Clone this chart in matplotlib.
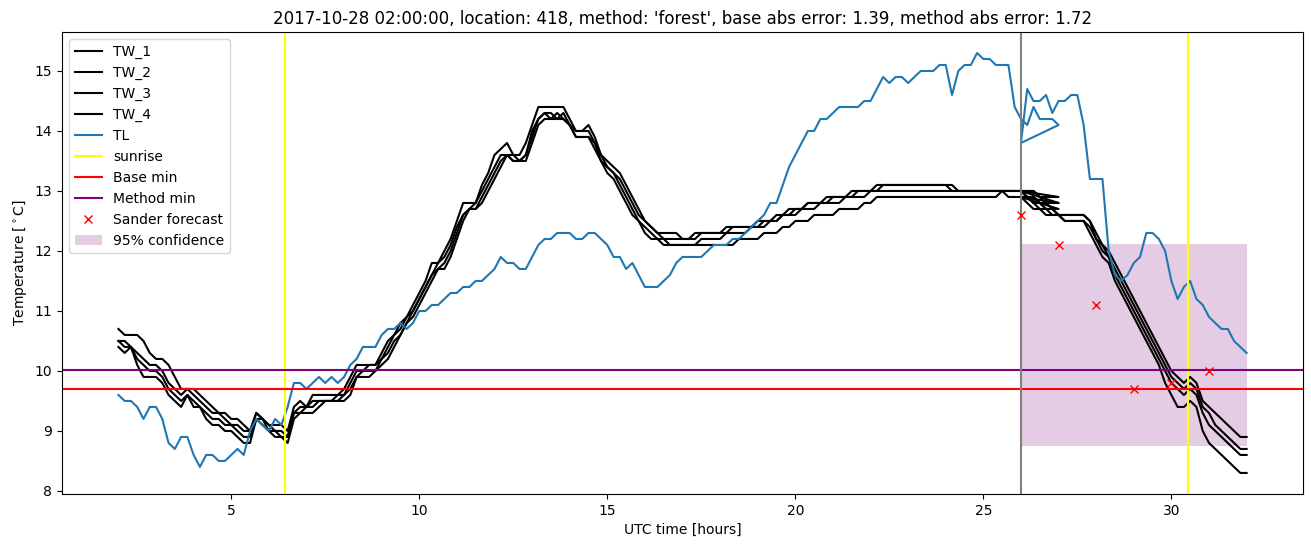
import numpy as np
import matplotlib
matplotlib.use('Agg')
import matplotlib.pyplot as plt

# 10-minute observations: history 02:00-27:00 and the following period 26:00-32:00
t_hist = 2 + np.arange(151) / 6
t_next = 26 + np.arange(37) / 6

tl_hist = [9.6, 9.5, 9.5, 9.4, 9.2, 9.4, 9.4, 9.2, 8.8, 8.7,
           8.9, 8.9, 8.6, 8.4, 8.6, 8.6, 8.5, 8.5, 8.6, 8.7,
           8.6, 9.0, 9.2, 9.1, 9.0, 9.2, 9.1, 9.4, 9.8, 9.8,
           9.7, 9.8, 9.9, 9.8, 9.9, 9.8, 9.9, 10.1, 10.2, 10.4,
           10.4, 10.4, 10.6, 10.7, 10.7, 10.8, 10.7, 10.8, 11.0, 11.0,
           11.1, 11.1, 11.2, 11.3, 11.3, 11.4, 11.4, 11.5, 11.5, 11.6,
           11.7, 11.9, 11.8, 11.8, 11.7, 11.7, 11.9, 12.1, 12.2, 12.2,
           12.3, 12.3, 12.3, 12.2, 12.2, 12.3, 12.3, 12.2, 12.1, 11.9,
           11.9, 11.7, 11.8, 11.6, 11.4, 11.4, 11.4, 11.5, 11.6, 11.8,
           11.9, 11.9, 11.9, 11.9, 12.0, 12.1, 12.1, 12.1, 12.2, 12.2,
           12.3, 12.4, 12.5, 12.6, 12.8, 12.8, 13.1, 13.4, 13.6, 13.8,
           14.0, 14.0, 14.2, 14.2, 14.3, 14.4, 14.4, 14.4, 14.4, 14.5,
           14.5, 14.7, 14.9, 14.8, 14.9, 14.9, 14.8, 14.9, 15.0, 15.0,
           15.0, 15.1, 15.1, 14.6, 15.0, 15.1, 15.1, 15.3, 15.2, 15.2,
           15.1, 15.1, 15.1, 14.4, 14.2, 14.1, 14.4, 14.2, 14.2, 14.2, 14.1]
tl_next = [13.8, 14.7, 14.5, 14.5, 14.6, 14.3, 14.5, 14.5, 14.6, 14.6,
           14.1, 13.2, 13.2, 13.2, 12.0, 11.6, 11.5, 11.6, 11.8, 11.9,
           12.3, 12.3, 12.2, 12.0, 11.5, 11.2, 11.4, 11.5, 11.2, 11.1,
           10.9, 10.8, 10.7, 10.7, 10.5, 10.4, 10.3]

tw1_hist = [10.7, 10.6, 10.6, 10.6, 10.5, 10.3, 10.2, 10.2, 10.1, 9.9,
            9.7, 9.7, 9.7, 9.6, 9.5, 9.4, 9.3, 9.3, 9.2, 9.2,
            9.1, 9.0, 9.3, 9.2, 9.1, 9.1, 9.1, 9.0, 9.4, 9.5,
            9.4, 9.6, 9.6, 9.6, 9.6, 9.6, 9.7, 9.9, 10.1, 10.1,
            10.1, 10.1, 10.3, 10.5, 10.6, 10.8, 10.9, 11.1, 11.3, 11.5,
            11.8, 11.8, 12.0, 12.2, 12.5, 12.8, 12.8, 12.8, 13.1, 13.3,
            13.6, 13.7, 13.8, 13.6, 13.6, 13.8, 14.1, 14.4, 14.4, 14.4,
            14.4, 14.4, 14.2, 14.0, 14.0, 14.1, 13.9, 13.6, 13.5, 13.4,
            13.3, 13.1, 12.9, 12.7, 12.5, 12.4, 12.3, 12.3, 12.3, 12.3,
            12.2, 12.2, 12.3, 12.3, 12.3, 12.3, 12.3, 12.4, 12.4, 12.4,
            12.4, 12.4, 12.4, 12.5, 12.5, 12.5, 12.6, 12.6, 12.7, 12.7,
            12.8, 12.8, 12.8, 12.9, 12.9, 12.9, 12.9, 13.0, 13.0, 13.0,
            13.0, 13.1, 13.1, 13.1, 13.1, 13.1, 13.1, 13.1, 13.1, 13.1,
            13.1, 13.1, 13.1, 13.0, 13.0, 13.0, 13.0, 13.0, 13.0, 13.0,
            13.0, 13.0, 13.0, 13.0, 13.0, 13.0, 13.0, 12.9, 12.9, 12.9, 12.9]
tw2_hist = [10.5, 10.5, 10.4, 10.3, 10.2, 10.1, 10.1, 10.0, 9.8, 9.7,
            9.6, 9.7, 9.6, 9.5, 9.4, 9.3, 9.3, 9.2, 9.1, 9.1,
            9.0, 9.0, 9.3, 9.2, 9.1, 9.0, 9.0, 8.9, 9.3, 9.4,
            9.4, 9.5, 9.5, 9.5, 9.5, 9.6, 9.6, 9.8, 10.0, 10.0,
            10.1, 10.1, 10.2, 10.4, 10.6, 10.7, 10.9, 11.0, 11.2, 11.4,
            11.6, 11.8, 11.9, 12.1, 12.4, 12.6, 12.7, 12.8, 13.0, 13.2,
            13.4, 13.6, 13.6, 13.6, 13.5, 13.6, 14.0, 14.2, 14.3, 14.3,
            14.2, 14.3, 14.1, 14.0, 14.0, 14.0, 13.8, 13.6, 13.4, 13.3,
            13.2, 13.0, 12.8, 12.6, 12.5, 12.4, 12.3, 12.2, 12.2, 12.2,
            12.2, 12.2, 12.2, 12.3, 12.3, 12.3, 12.3, 12.3, 12.4, 12.4,
            12.4, 12.4, 12.5, 12.5, 12.5, 12.6, 12.6, 12.7, 12.7, 12.7,
            12.8, 12.8, 12.8, 12.8, 12.9, 12.9, 12.9, 12.9, 13.0, 13.0,
            13.0, 13.0, 13.1, 13.1, 13.1, 13.1, 13.1, 13.1, 13.1, 13.1,
            13.1, 13.1, 13.1, 13.1, 13.0, 13.0, 13.0, 13.0, 13.0, 13.0,
            13.0, 13.0, 13.0, 13.0, 13.0, 12.9, 12.9, 12.8, 12.8, 12.8, 12.8]
tw3_hist = [10.5, 10.4, 10.4, 10.2, 10.1, 10.0, 10.0, 9.9, 9.7, 9.6,
            9.5, 9.6, 9.5, 9.4, 9.3, 9.2, 9.2, 9.1, 9.1, 9.0,
            8.9, 8.9, 9.2, 9.2, 9.0, 9.0, 8.9, 8.9, 9.3, 9.3,
            9.4, 9.4, 9.5, 9.5, 9.5, 9.5, 9.6, 9.7, 9.9, 10.0,
            10.0, 10.0, 10.2, 10.3, 10.5, 10.6, 10.8, 11.0, 11.2, 11.4,
            11.6, 11.7, 11.8, 12.0, 12.3, 12.6, 12.7, 12.7, 12.9, 13.1,
            13.3, 13.5, 13.6, 13.5, 13.5, 13.6, 13.9, 14.2, 14.3, 14.2,
            14.3, 14.2, 14.1, 13.9, 13.9, 13.9, 13.8, 13.5, 13.4, 13.3,
            13.1, 12.9, 12.7, 12.5, 12.4, 12.3, 12.2, 12.2, 12.1, 12.1,
            12.1, 12.1, 12.1, 12.2, 12.2, 12.2, 12.2, 12.3, 12.3, 12.3,
            12.3, 12.4, 12.4, 12.4, 12.5, 12.5, 12.6, 12.6, 12.6, 12.7,
            12.7, 12.7, 12.8, 12.8, 12.8, 12.8, 12.9, 12.9, 12.9, 12.9,
            13.0, 13.0, 13.0, 13.0, 13.0, 13.0, 13.0, 13.0, 13.0, 13.0,
            13.0, 13.0, 13.0, 13.0, 13.0, 13.0, 13.0, 13.0, 13.0, 13.0,
            13.0, 13.0, 13.0, 13.0, 13.0, 13.0, 13.0, 12.9, 12.8, 12.8, 12.8]
tw4_hist = [10.4, 10.3, 10.4, 10.1, 9.9, 9.9, 9.9, 9.8, 9.6, 9.5,
            9.4, 9.6, 9.4, 9.4, 9.2, 9.1, 9.1, 9.0, 9.0, 8.9,
            8.8, 8.8, 9.2, 9.1, 9.0, 8.9, 8.9, 8.8, 9.2, 9.3,
            9.3, 9.3, 9.4, 9.5, 9.5, 9.5, 9.5, 9.6, 9.9, 9.9,
            9.9, 10.0, 10.1, 10.2, 10.4, 10.6, 10.8, 10.9, 11.1, 11.3,
            11.5, 11.7, 11.7, 11.9, 12.2, 12.5, 12.7, 12.7, 12.8, 13.0,
            13.2, 13.4, 13.6, 13.5, 13.5, 13.5, 13.8, 14.1, 14.2, 14.2,
            14.2, 14.2, 14.1, 13.9, 13.9, 13.9, 13.7, 13.5, 13.3, 13.2,
            13.0, 12.8, 12.6, 12.5, 12.3, 12.2, 12.2, 12.1, 12.1, 12.1,
            12.1, 12.1, 12.1, 12.1, 12.1, 12.1, 12.1, 12.1, 12.1, 12.2,
            12.2, 12.2, 12.2, 12.3, 12.3, 12.3, 12.4, 12.4, 12.5, 12.5,
            12.5, 12.6, 12.6, 12.6, 12.6, 12.7, 12.7, 12.7, 12.7, 12.8,
            12.8, 12.9, 12.9, 12.9, 12.9, 12.9, 12.9, 12.9, 12.9, 12.9,
            12.9, 12.9, 12.9, 12.9, 12.9, 12.9, 12.9, 12.9, 12.9, 12.9,
            12.9, 13.0, 12.9, 12.9, 12.9, 12.9, 12.8, 12.8, 12.7, 12.7, 12.7]

tw1_next = [13.0, 12.9, 12.8, 12.8, 12.8, 12.7, 12.6, 12.6, 12.6, 12.6,
            12.6, 12.5, 12.2, 12.1, 12.0, 11.8, 11.6, 11.4, 11.2, 11.0,
            10.8, 10.6, 10.4, 10.2, 10.0, 9.9, 9.8, 9.9, 9.8, 9.5,
            9.4, 9.3, 9.2, 9.1, 9.0, 8.9, 8.9]
tw2_next = [13.0, 12.9, 12.9, 12.8, 12.7, 12.7, 12.6, 12.6, 12.6, 12.6,
            12.6, 12.5, 12.3, 12.1, 11.9, 11.7, 11.5, 11.3, 11.1, 10.9,
            10.7, 10.5, 10.3, 10.1, 9.9, 9.8, 9.7, 9.8, 9.7, 9.4,
            9.3, 9.1, 9.0, 8.9, 8.8, 8.7, 8.7]
tw3_next = [12.9, 12.9, 12.8, 12.7, 12.7, 12.6, 12.6, 12.5, 12.5, 12.5,
            12.5, 12.4, 12.2, 12.0, 11.9, 11.6, 11.4, 11.2, 11.0, 10.8,
            10.6, 10.4, 10.2, 10.0, 9.8, 9.7, 9.6, 9.7, 9.6, 9.3,
            9.1, 9.0, 8.9, 8.8, 8.7, 8.6, 8.6]
tw4_next = [12.9, 12.8, 12.7, 12.7, 12.6, 12.6, 12.6, 12.5, 12.5, 12.5,
            12.5, 12.3, 12.1, 11.9, 11.8, 11.5, 11.3, 11.1, 10.9, 10.7,
            10.5, 10.3, 10.1, 9.8, 9.6, 9.4, 9.4, 9.5, 9.4, 9.0,
            8.8, 8.7, 8.6, 8.5, 8.4, 8.3, 8.3]

sunrise = [6.43, 30.45]
forecast_start = 26
base_min = 9.7
method_min = 10.02
sander_t = [26, 27, 28, 29, 30, 31]
sander_val = [12.6, 12.1, 11.1, 9.7, 9.8, 10.0]
conf_low, conf_high = 8.75, 12.12
conf_t = [26, 32]

time = np.concatenate([t_hist, t_next])
tw_series = [tw1_hist + tw1_next, tw2_hist + tw2_next,
             tw3_hist + tw3_next, tw4_hist + tw4_next]

fig, ax = plt.subplots(figsize=(13.11, 5.47), dpi=100)
fig.subplots_adjust(left=0.0473, right=0.9939, bottom=0.097, top=0.9415)

for k, tw in enumerate(tw_series):
    ax.plot(time, tw, color='black', label='TW_%d' % (k + 1))
ax.plot(time, tl_hist + tl_next, color='#1f77b4', label='TL')

ax.axvline(sunrise[0], color='yellow', label='sunrise')
ax.axvline(sunrise[1], color='yellow')
ax.axhline(base_min, color='red', label='Base min')
ax.axhline(method_min, color='purple', label='Method min')
ax.axvline(forecast_start, color='grey')
ax.plot(sander_t, sander_val, 'x', color='red', linestyle='None', label='Sander forecast')
ax.fill_between(conf_t, conf_low, conf_high, color='purple', alpha=0.2, linewidth=0,
                label='95% confidence')

ax.legend(loc='upper left')
ax.set_xlabel('UTC time [hours]')
ax.set_ylabel(r'Temperature [$^\circ$C]')
ax.set_title("2017-10-28 02:00:00, location: 418, method: 'forest', "
             "base abs error: 1.39, method abs error: 1.72")

plt.savefig('out.png', dpi=100)
